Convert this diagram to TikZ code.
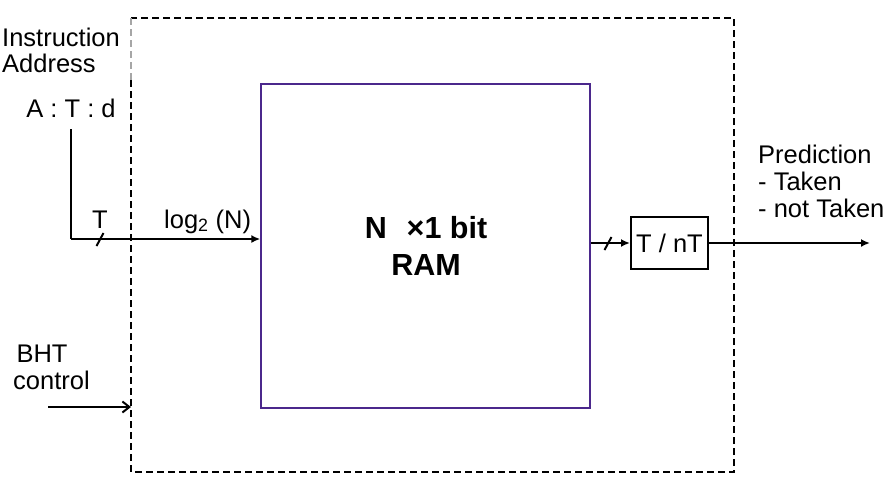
\documentclass[tikz,border=0pt]{standalone}
\usepackage{fontspec}
\setmainfont{Liberation Sans}
\usetikzlibrary{arrows.meta}
\definecolor{ramviolet}{RGB}{75,40,140}
\begin{document}
\begin{tikzpicture}[x=1pt,y=-1pt,
  lbl/.style={font=\fontsize{25.5}{28}\selectfont, inner sep=0pt},
  wire/.style={line width=2pt},
  arr/.style={wire,-{Latex[length=9pt,width=8pt]}},
  bharr/.style={wire,-{Straight Barb[length=7pt,width=11pt]}},
  dbox/.style={line width=2.4pt, dash pattern=on 7pt off 4pt},
  ramstyle/.style={draw=ramviolet, line width=1.4pt, minimum width=329pt, minimum height=324pt, inner sep=0pt},
  tnt/.style={draw, line width=2pt, minimum width=77pt, minimum height=52pt, inner sep=0pt, font=\fontsize{25.5}{28}\selectfont}]
\useasboundingbox (0,0) rectangle (888,480);
\fill[white] (0,0) rectangle (888,480);
% dashed outer box
\draw[dbox] (131,80) -- (131,472) -- (734,472) -- (734,18) -- (131,18);
\draw[dbox, draw=gray!70] (131,18) -- (131,80);
% RAM
\node[ramstyle] (ram) at (425.5,246) {};
\node[font=\bfseries\fontsize{30.5}{37}\selectfont, align=center, inner sep=0pt] (ramtext) at (426,246) {N\ \ \kern3pt×1 bit\\RAM};
% T/nT
\node[tnt] (tnt) at (669.5,243) {T / nT};
% left labels
\node[lbl, anchor=base west] (instr) at (2,46) {Instruction};
\node[lbl, anchor=base west] (addr) at (2,72) {Address};
\node[lbl, anchor=base] (atd) at (71,117) {A : T : d};
\coordinate (vtop) at (71,129);
\coordinate (corner) at (71,239);
\coordinate (ramin) at (ram.west |- corner);
\draw[wire] (vtop) -- (corner);
\draw[arr] (corner) -- (ramin);
\coordinate (s1a) at (96.5,246); \coordinate (s1b) at (103.5,233);
\draw[wire] (s1a) -- (s1b);
\node[lbl, anchor=base] (tlbl) at (100,228) {T};
\node[lbl, anchor=base west] (loglbl) at (164,228) {log\textsubscript{2} (N)};
% output side
\coordinate (ramout) at (ram.east |- tnt.west);
\draw[arr] (ramout) -- (tnt.west);
\coordinate (s2a) at (604.5,250); \coordinate (s2b) at (611.5,237);
\draw[wire] (s2a) -- (s2b);
\coordinate (outend) at (870,0 |- tnt.east);
\draw[arr] (tnt.east) -- (outend);
\node[lbl, anchor=base west] (pred) at (758,163) {Prediction};
\node[lbl, anchor=base west] (taken) at (758,190) {- Taken};
\node[lbl, anchor=base west] (ntaken) at (758,217) {- not Taken};
% BHT control
\node[lbl, anchor=base] (bht) at (42,362) {BHT};
\node[lbl, anchor=base west] (ctrl) at (13,389) {control};
\coordinate (bhtstart) at (48,407);
\coordinate (bhtend) at (131,407);
\draw[bharr] (bhtstart) -- (bhtend);
\end{tikzpicture}
\end{document}
